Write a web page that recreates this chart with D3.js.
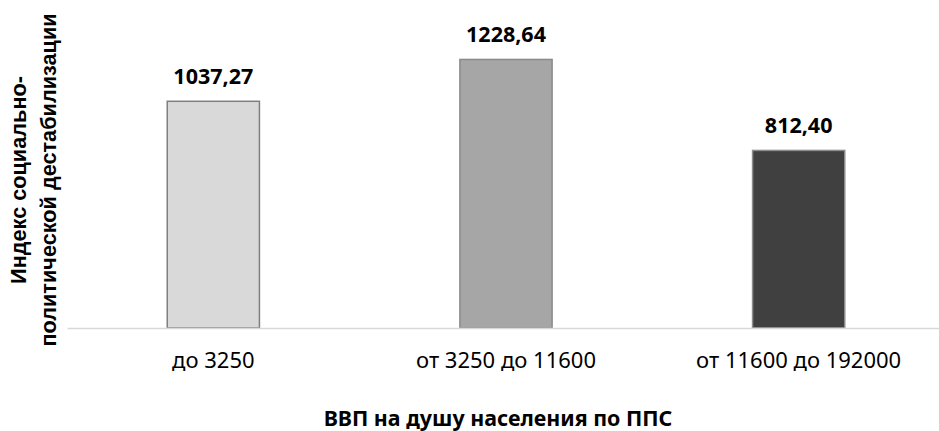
<!DOCTYPE html>
<html>
<head>
<meta charset="utf-8">
<script src="https://cdn.jsdelivr.net/npm/d3@7"></script>
<style>
  body { margin: 0; background: #fff; }
  svg { display: block; }
</style>
</head>
<body>
<div id="chart"></div>
<script>
// chart data
var categories = ["до 3250", "от 3250 до 11600", "от 11600 до 192000"];
var values = [1037.27, 1228.64, 812.40];
var fillColors = ["#d9d9d9", "#a6a6a6", "#404040"];
var strokeColors = ["#7f7f7f", "#8a8a8a", "#8c8c8c"];
var xTitle = "ВВП на душу населения по ППС";
var yTitleLines = ["Индекс социально-", "политической дестабилизации"];

var svgWidth = 939;
var svgHeight = 431;

var svg = d3.select("#chart")
  .append("svg")
  .attr("width", svgWidth)
  .attr("height", svgHeight);

// scales
var xBand = d3.scaleBand()
  .domain(categories)
  .range([67, 945])
  .paddingInner(0.685)
  .paddingOuter(0.3425);

var yLinear = d3.scaleLinear()
  .domain([0, 1400])
  .range([328, 22]);

var fmt = d3.format(".2f");

// bars
svg.selectAll("rect.bar")
  .data(values)
  .enter()
  .append("rect")
  .attr("class", "bar")
  .attr("x", (d, i) => xBand(categories[i]))
  .attr("y", d => yLinear(d))
  .attr("width", xBand.bandwidth())
  .attr("height", d => yLinear(0) - yLinear(d))
  .attr("fill", (d, i) => fillColors[i])
  .attr("stroke", (d, i) => strokeColors[i])
  .attr("stroke-width", 1.5);

// x axis, no ticks, light baseline
var xAxis = svg.append("g")
  .attr("transform", `translate(0, ${yLinear(0)})`)
  .call(d3.axisBottom(xBand).tickSize(0).tickPadding(0).tickSizeOuter(0));

xAxis.select(".domain")
  .attr("stroke", "#d9d9d9")
  .attr("stroke-width", 1.5);

xAxis.selectAll(".tick text")
  .attr("y", 40)
  .attr("dy", null)
  .attr("fill", "#000")
  .style("font-family", "'Noto Sans', sans-serif")
  .style("font-size", "22px");

// value labels
svg.selectAll("text.value")
  .data(values)
  .enter()
  .append("text")
  .attr("class", "value")
  .attr("x", (d, i) => xBand(categories[i]) + xBand.bandwidth() / 2)
  .attr("y", d => yLinear(d) - 17.5)
  .attr("text-anchor", "middle")
  .style("font-family", "'Noto Sans', sans-serif")
  .style("font-weight", "bold")
  .style("font-size", "21.5px")
  .text(d => fmt(d).replace(".", ","));

// x axis title
svg.append("text")
  .attr("x", 498)
  .attr("y", 426)
  .attr("text-anchor", "middle")
  .style("font-family", "'Noto Sans', sans-serif")
  .style("font-weight", "bold")
  .style("font-size", "21.4px")
  .text(xTitle);

// y axis title, two lines
var yTitle = svg.append("text")
  .attr("transform", "rotate(-90)")
  .attr("text-anchor", "middle")
  .style("font-family", "'Liberation Sans', Arial, sans-serif")
  .style("font-weight", "bold")
  .style("font-size", "21.7px");

yTitle.selectAll("tspan")
  .data(yTitleLines)
  .enter()
  .append("tspan")
  .attr("x", -180)
  .attr("y", (d, i) => 26 + i * 30)
  .text(d => d);
</script>
</body>
</html>
